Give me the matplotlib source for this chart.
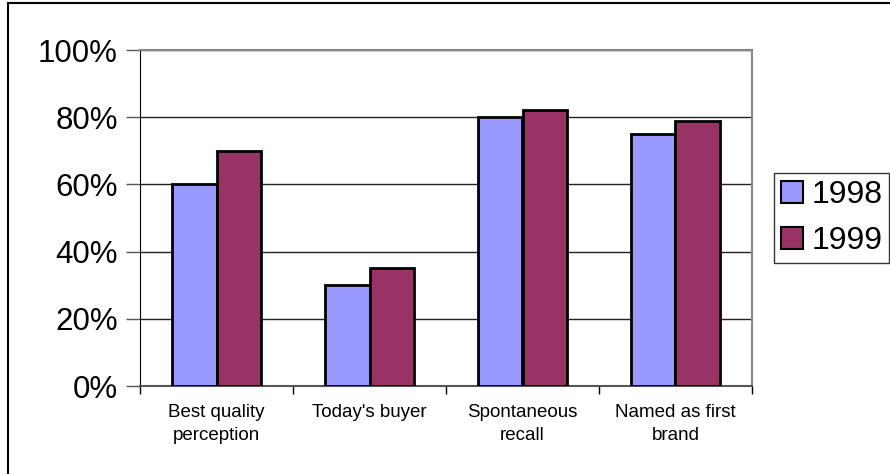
import matplotlib.pyplot as plt
import numpy as np
from matplotlib.patches import Rectangle, Patch

plt.rcParams['font.family'] = ['Liberation Sans', 'DejaVu Sans']

# categories and values (percent)
categories = ['Best quality\nperception', "Today's buyer", 'Spontaneous\nrecall', 'Named as first\nbrand']
y1998 = [60, 30, 80, 75]
y1999 = [70, 35, 82, 79]
yticks = [0, 20, 40, 60, 80, 100]

fig = plt.figure(figsize=(8.9, 4.74), dpi=100)
ax = fig.add_axes([140/890, 1 - 386/474, 612/890, 336/474])

x = np.arange(len(categories))
w = 0.29
ax.bar(x - w/2, y1998, w, color='#9999ff', edgecolor='black', linewidth=2, zorder=3)
ax.bar(x + w/2, y1999, w, color='#993366', edgecolor='black', linewidth=2, zorder=3)

ax.set_xlim(-0.5, len(categories) - 0.5)
ax.set_ylim(0, 100)
ax.set_yticks(yticks)
ax.set_yticklabels([f'{t}%' for t in yticks], fontsize=22.5)
for t in yticks[1:]:
    ax.axhline(t, color='#222222', linewidth=1, zorder=1)

ax.set_xticks(x)
ax.set_xticklabels(categories, fontsize=13.5, linespacing=1.45)
ax.tick_params(axis='x', length=0, pad=13)
ax.set_xticks(np.arange(len(categories) + 1) - 0.5, minor=True)
ax.tick_params(axis='x', which='minor', length=6, width=1, color='black')
ax.tick_params(axis='y', length=10, width=1, color='#555555', pad=6)

ax.spines['left'].set_color('black')
ax.spines['bottom'].set_color('#555555')
ax.spines['bottom'].set_linewidth(1.5)
ax.spines['top'].set_color('#888888')
ax.spines['right'].set_color('#888888')
ax.spines['top'].set_linewidth(1.5)
ax.spines['right'].set_linewidth(1.5)

handles = [Patch(facecolor='#9999ff', edgecolor='black', linewidth=1.5),
           Patch(facecolor='#993366', edgecolor='black', linewidth=1.5)]
leg = fig.legend(handles, ['1998', '1999'], loc='upper left',
                 bbox_to_anchor=(774/890, 1 - 173/474), fontsize=23,
                 frameon=True, fancybox=False, handlelength=0.7, handleheight=0.7,
                 handletextpad=0.25, borderpad=0.22, labelspacing=0.5, borderaxespad=0)
leg.get_frame().set_edgecolor('black')
leg.get_frame().set_linewidth(1)

# outer chart border
fig.patches.append(Rectangle((8/890, -0.1), 1.2, 1 - 3/474 + 0.1, transform=fig.transFigure,
                             fill=False, edgecolor='black', linewidth=1.5))

fig.savefig('out.png', dpi=100)
